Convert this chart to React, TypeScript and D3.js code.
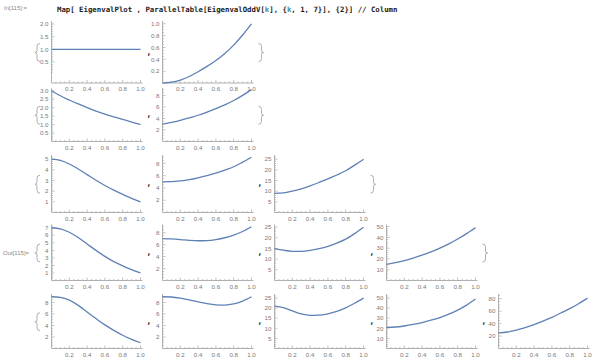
import React, { useEffect, useRef } from 'react';
import * as d3 from 'd3';

// sample points along the x axis (0..1)
const xSamples = [0, 0.1, 0.2, 0.3, 0.4, 0.5, 0.6, 0.7, 0.8, 0.9, 1.0];

// curve values, one array per panel (row k, column j)
const r1c1 = [1, 1, 1, 1, 1, 1, 1, 1, 1, 1, 1];
const r1c2 = [0, 0.015, 0.05, 0.11, 0.19, 0.28, 0.38, 0.5, 0.64, 0.81, 1.0];
const r2c1 = [3.0, 2.7, 2.45, 2.22, 2.0, 1.8, 1.62, 1.46, 1.31, 1.15, 1.0];
const r2c2 = [3.0, 3.3, 3.65, 4.1, 4.55, 5.1, 5.7, 6.35, 7.1, 8.0, 9.0];
const r3c1 = [5.0, 4.88, 4.55, 4.08, 3.55, 3.02, 2.53, 2.1, 1.7, 1.33, 1.0];
const r3c2 = [5.0, 5.03, 5.15, 5.35, 5.65, 6.0, 6.4, 6.9, 7.45, 8.2, 9.0];
const r3c3 = [9.0, 9.2, 10.0, 11.1, 12.5, 14.1, 15.8, 17.6, 19.6, 22.2, 25.0];
const r4c1 = [7.0, 6.85, 6.4, 5.7, 4.85, 4.0, 3.2, 2.5, 1.95, 1.45, 1.0];
const r4c2 = [7.0, 6.95, 6.85, 6.72, 6.65, 6.68, 6.85, 7.15, 7.6, 8.2, 9.0];
const r4c3 = [15.0, 14.2, 13.7, 13.7, 14.1, 14.9, 16.0, 17.5, 19.4, 22.0, 25.0];
const r4c4 = [15.0, 16.5, 18.5, 20.8, 23.5, 26.5, 30.0, 34.0, 38.5, 43.5, 49.0];
const r5c1 = [9.0, 8.88, 8.4, 7.5, 6.35, 5.2, 4.1, 3.15, 2.3, 1.6, 1.0];
const r5c2 = [9.0, 8.95, 8.75, 8.45, 8.1, 7.8, 7.6, 7.55, 7.75, 8.25, 9.0];
const r5c3 = [21.0, 20.3, 18.6, 17.1, 16.4, 16.5, 17.2, 18.4, 20.1, 22.4, 25.0];
const r5c4 = [21.0, 21.3, 22.3, 23.8, 25.7, 28.0, 30.7, 34.0, 38.0, 43.0, 49.0];
const r5c5 = [25.0, 26.5, 29.5, 33.5, 38.5, 44.0, 50.0, 57.0, 64.0, 72.0, 81.0];

const rowsData = [
  [r1c1, r1c2],
  [r2c1, r2c2],
  [r3c1, r3c2, r3c3],
  [r4c1, r4c2, r4c3, r4c4],
  [r5c1, r5c2, r5c3, r5c4, r5c5],
];

// y tick values per panel
const ticksHalf = [0.5, 1.0, 1.5, 2.0];
const ticksFifth = [0.2, 0.4, 0.6, 0.8, 1.0];
const ticksHalf3 = [0.5, 1.0, 1.5, 2.0, 2.5, 3.0];
const ticksEven = [2, 4, 6, 8];
const ticksOne5 = [1, 2, 3, 4, 5];
const ticksOne7 = [1, 2, 3, 4, 5, 6, 7];
const ticksFive = [5, 10, 15, 20, 25];
const ticksTen = [10, 20, 30, 40, 50];
const ticksTwenty = [20, 40, 60, 80];
const xTicks = [0.2, 0.4, 0.6, 0.8, 1.0];

const rowsTicks = [
  [ticksHalf, ticksFifth],
  [ticksHalf3, ticksEven],
  [ticksOne5, ticksEven, ticksFive],
  [ticksOne7, ticksEven, ticksFive, ticksTen],
  [ticksEven, ticksEven, ticksFive, ticksTen, ticksTwenty],
];

// y domains per panel
const rowsDomain: [number, number][][] = [
  [[-0.33, 2.08], [0, 1.03]],
  [[0, 3.1], [0, 9.1]],
  [[0, 5.3], [0, 9.2], [0, 26.5]],
  [[0, 7.3], [0, 9.2], [0, 25.8], [0, 51]],
  [[0, 9.3], [0, 9.3], [0, 26.5], [0, 53], [0, 86]],
];

// input line, split where the iterator symbol is coloured
const codeParts = ['Map[ EigenvalPlot , ParallelTable[EigenvalOddV[', 'k', '], {', 'k', ', 1, 7}], {2}] // Column'];

const W = 594;
const H = 357;
const rowBox = [
  { top: 22, bottom: 83 },
  { top: 89, bottom: 141.5 },
  { top: 156, bottom: 212.5 },
  { top: 225.5, bottom: 280.5 },
  { top: 295, bottom: 348.5 },
];
const colX = [51.5, 162.5, 274.5, 386.5, 498.5];
const plotW = 89;

const lineColor = '#5e81b5';
const axisColor = '#b0b0b0';
const labelColor = '#7a7a7a';
const font = '"Liberation Sans", Arial, sans-serif';

const App: React.FC = () => {
  const svgRef = useRef<SVGSVGElement>(null);

  useEffect(() => {
    const svg = d3.select(svgRef.current);
    svg.selectAll('*').remove();

    svg.append('text')
      .attr('x', 4).attr('y', 10)
      .attr('font-family', font).attr('font-size', 6)
      .attr('fill', '#8a8a8a')
      .text('In[115]:=');

    const codeText = svg.append('text')
      .attr('x', 57).attr('y', 11.5)
      .attr('font-family', '"DejaVu Sans Mono", monospace')
      .attr('font-size', 7.35)
      .attr('font-weight', 'bold')
      .attr('fill', '#1a1a1a')
      .attr('xml:space', 'preserve');
    codeParts.forEach(p => {
      codeText.append('tspan')
        .attr('fill', p === 'k' ? '#3f8e9c' : '#1a1a1a')
        .text(p);
    });

    svg.append('text')
      .attr('x', 3).attr('y', 255)
      .attr('font-family', font).attr('font-size', 6)
      .attr('fill', '#8a8a8a')
      .text('Out[115]=');

    const brace = (x: number, yc: number, dir: number) => {
      const h = 9;
      const w = 3 * dir;
      svg.append('path')
        .attr('d', `M${x + w},${yc - h} Q${x},${yc - h} ${x},${yc - h + 3} L${x},${yc - 2} Q${x},${yc} ${x - w * 0.7},${yc} Q${x},${yc} ${x},${yc + 2} L${x},${yc + h - 3} Q${x},${yc + h} ${x + w},${yc + h}`)
        .attr('fill', 'none')
        .attr('stroke', '#9a9a9a')
        .attr('stroke-width', 0.8);
    };

    rowsData.forEach((row, ri) => {
      const box = rowBox[ri];
      const mid = (box.top + box.bottom) / 2 + 2;
      brace(37, mid - 2, 1);

      row.forEach((vals, ci) => {
        const x0 = colX[ci];
        const x = d3.scaleLinear().domain([0, 1]).range([x0, x0 + plotW]);
        const y = d3.scaleLinear().domain(rowsDomain[ri][ci]).range([box.bottom, box.top]);
        const g = svg.append('g');

        // axes
        g.append('line')
          .attr('x1', x0).attr('x2', x0 + plotW + 2)
          .attr('y1', box.bottom).attr('y2', box.bottom)
          .attr('stroke', axisColor).attr('stroke-width', 1);
        g.append('line')
          .attr('x1', x0).attr('x2', x0)
          .attr('y1', box.bottom).attr('y2', box.top - 1)
          .attr('stroke', axisColor).attr('stroke-width', 1);

        // x ticks
        d3.range(1, 21).forEach(i => {
          const v = i * 0.05;
          const major = i % 4 === 0;
          g.append('line')
            .attr('x1', x(v)).attr('x2', x(v))
            .attr('y1', box.bottom).attr('y2', box.bottom - (major ? 3 : 1.5))
            .attr('stroke', axisColor).attr('stroke-width', 0.8);
        });
        g.selectAll('text.xt')
          .data(xTicks)
          .enter().append('text')
          .attr('class', 'xt')
          .attr('x', d => x(d))
          .attr('y', box.bottom + 8.3)
          .attr('text-anchor', 'middle')
          .attr('font-family', font).attr('font-size', 6.2)
          .attr('fill', labelColor)
          .text(d => d.toFixed(1));

        // y ticks
        const yt = rowsTicks[ri][ci];
        const step = yt[1] - yt[0];
        const dom = rowsDomain[ri][ci];
        const minorStep = step / (step === 2 || step === 20 || step === 0.2 ? 4 : 5);
        for (let v = Math.max(0, dom[0]) + minorStep; v <= dom[1]; v += minorStep) {
          const isMajor = yt.some(t => Math.abs(t - v) < minorStep / 10);
          g.append('line')
            .attr('x1', x0).attr('x2', x0 + (isMajor ? 3 : 1.5))
            .attr('y1', y(v)).attr('y2', y(v))
            .attr('stroke', axisColor).attr('stroke-width', 0.8);
        }
        const fmt = yt.some(t => !Number.isInteger(t)) ? (d: number) => d.toFixed(1) : (d: number) => String(d);
        g.selectAll('text.yt')
          .data(yt)
          .enter().append('text')
          .attr('class', 'yt')
          .attr('x', x0 - 3)
          .attr('y', d => y(d) + 2.2)
          .attr('text-anchor', 'end')
          .attr('font-family', font).attr('font-size', 6.2)
          .attr('fill', labelColor)
          .text(d => fmt(d));

        // curve
        const line = d3.line<number>()
          .x((_, i) => x(xSamples[i]))
          .y(d => y(d))
          .curve(d3.curveMonotoneX);
        g.append('path')
          .attr('d', line(vals) ?? '')
          .attr('fill', 'none')
          .attr('stroke', lineColor)
          .attr('stroke-width', 1.3);

        // separator comma / closing brace
        if (ci < row.length - 1) {
          svg.append('text')
            .attr('x', x0 + plotW + 6).attr('y', mid)
            .attr('font-family', '"DejaVu Sans Mono", monospace').attr('font-size', 8)
            .attr('font-weight', 'bold')
            .attr('fill', '#222')
            .text(',');
        } else {
          brace(x0 + plotW + 10, mid - 2, -1);
        }
      });
    });
  }, []);

  return (
    <svg
      ref={svgRef}
      width={W}
      height={H}
      style={{ position: 'absolute', left: 0, top: 0, background: '#fff' }}
    />
  );
};

export default App;
